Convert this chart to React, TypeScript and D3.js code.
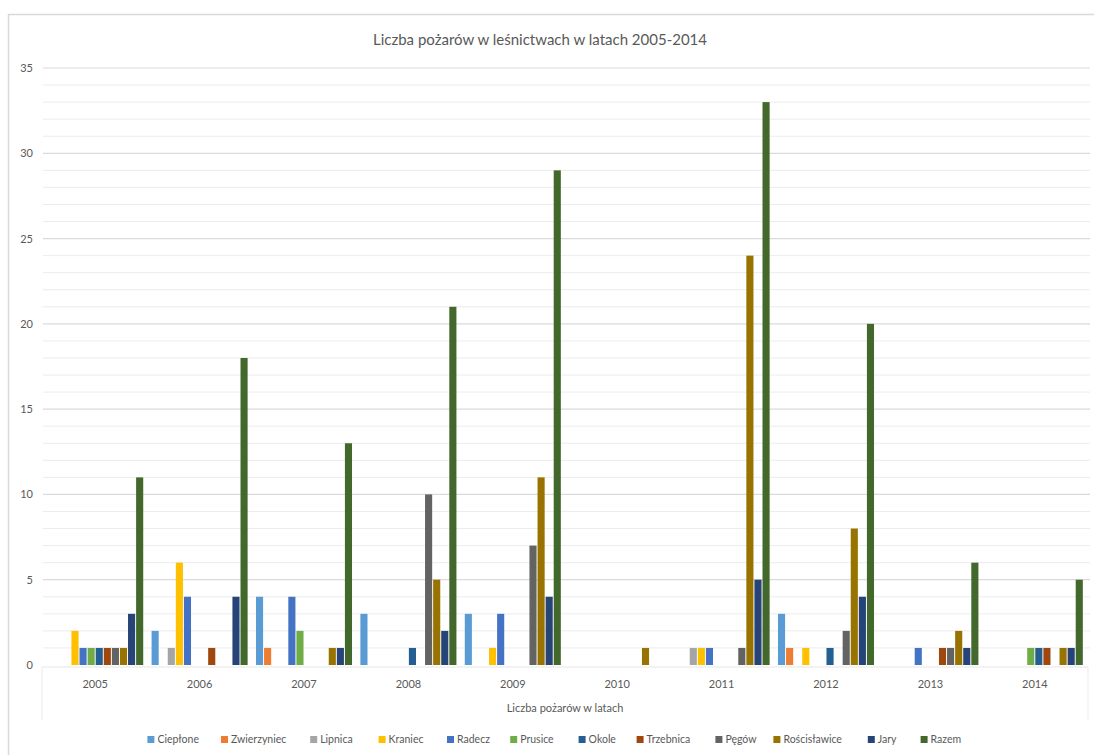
import React from "react";
import * as d3 from "d3";

const years = ["2005", "2006", "2007", "2008", "2009", "2010", "2011", "2012", "2013", "2014"];
const seriesNames = ["Ciepłone", "Zwierzyniec", "Lipnica", "Kraniec", "Radecz", "Prusice", "Okole", "Trzebnica", "Pęgów", "Rościsławice", "Jary", "Razem"];
const seriesColors = ["#5B9BD5", "#ED7D31", "#A5A5A5", "#FFC000", "#4472C4", "#70AD47", "#255E91", "#9E480E", "#636363", "#997300", "#264478", "#43682B"];

const cieplone = [0, 2, 4, 3, 3, 0, 0, 3, 0, 0];
const zwierzyniec = [0, 0, 1, 0, 0, 0, 0, 1, 0, 0];
const lipnica = [0, 1, 0, 0, 0, 0, 1, 0, 0, 0];
const kraniec = [2, 6, 0, 0, 1, 0, 1, 1, 0, 0];
const radecz = [1, 4, 4, 0, 3, 0, 1, 0, 1, 0];
const prusice = [1, 0, 2, 0, 0, 0, 0, 0, 0, 1];
const okole = [1, 0, 0, 1, 0, 0, 0, 1, 0, 1];
const trzebnica = [1, 1, 0, 0, 0, 0, 0, 0, 1, 1];
const pegow = [1, 0, 0, 10, 7, 0, 1, 2, 1, 0];
const roscislawice = [1, 0, 1, 5, 11, 1, 24, 8, 2, 1];
const jary = [3, 4, 1, 2, 4, 0, 5, 4, 1, 1];
const razem = [11, 18, 13, 21, 29, 0, 33, 20, 6, 5];

const seriesValues = [cieplone, zwierzyniec, lipnica, kraniec, radecz, prusice, okole, trzebnica, pegow, roscislawice, jary, razem];
const yTicks = [0, 5, 10, 15, 20, 25, 30, 35];

const title = "Liczba pożarów w leśnictwach w latach 2005-2014";
const xTitle = "Liczba pożarów w latach";

const W = 1094, H = 755;
const FONT = "Lato, 'Open Sans', sans-serif";

export default function App() {
  const left = 43, right = 1087, top = 68, bottom = 665;
  const x0 = d3.scaleBand().domain(years).range([left, right]).paddingInner(0.08).paddingOuter(0.04);
  const x1 = d3.scaleBand().domain(seriesNames).range([0, x0.bandwidth()]).paddingInner(0.12);
  const y = d3.scaleLinear().domain([0, 35]).range([bottom, top]);
  const minor = d3.range(1, 36);

  // legend layout
  const legendFont = 10.5;
  const charW = (s: string) => s.length * 5.2;
  const itemWidths = seriesNames.map((n) => 11 + charW(n) + 21);
  const totalW = d3.sum(itemWidths);
  let lx = (W - totalW) / 2 + 16;
  const legendItems = seriesNames.map((n, i) => {
    const it = { n, i, x: lx };
    lx += itemWidths[i];
    return it;
  });

  return (
    <svg width={W} height={H} style={{ position: "absolute", left: 0, top: 0, background: "#fff" }} fontFamily={FONT}>
      <rect x={8.5} y={14.5} width={1100} height={760} fill="#fff" stroke="#d9d9d9" strokeWidth={1.5} />
      <text x={540} y={45} textAnchor="middle" fontSize={15} fill="#595959">{title}</text>
      {minor.filter((v) => v % 5 !== 0).map((v) => (
        <line key={"m" + v} x1={43} x2={1090} y1={y(v)} y2={y(v)} stroke="#ececec" strokeWidth={1} />
      ))}
      {yTicks.map((v) => (
        <g key={"t" + v}>
          {v > 0 && <line x1={43} x2={1090} y1={y(v)} y2={y(v)} stroke="#dadada" strokeWidth={1.2} />}
          <text x={33} y={y(v) + 4} textAnchor="end" fontSize={11} fill="#595959">{v}</text>
        </g>
      ))}
      {/* x-axis box */}
      <line x1={42} x2={1088} y1={667} y2={667} stroke="#e6e6e6" />
      <line x1={42} x2={42} y1={667} y2={720} stroke="#ececec" />
      <line x1={1088} x2={1088} y1={667} y2={720} stroke="#ececec" />
      {years.map((yr, yi) => (
        <g key={yr} transform={`translate(${x0(yr)},0)`}>
          {seriesNames.map((s, si) => {
            const v = seriesValues[si][yi];
            if (!v) return null;
            return (
              <rect key={s} x={x1(s)} y={y(v)} width={x1.bandwidth()} height={y(0) - y(v)} fill={seriesColors[si]} />
            );
          })}
          <text x={x0.bandwidth() / 2} y={688} textAnchor="middle" fontSize={11} fill="#595959">{yr}</text>
        </g>
      ))}
      <text x={565} y={712} textAnchor="middle" fontSize={11} fill="#595959">{xTitle}</text>
      {legendItems.map((it) => (
        <g key={it.n} transform={`translate(${it.x},736)`}>
          <rect x={0} y={0} width={7} height={7} fill={seriesColors[it.i]} />
          <text x={10} y={7} fontSize={legendFont} fill="#595959">{it.n}</text>
        </g>
      ))}
    </svg>
  );
}
